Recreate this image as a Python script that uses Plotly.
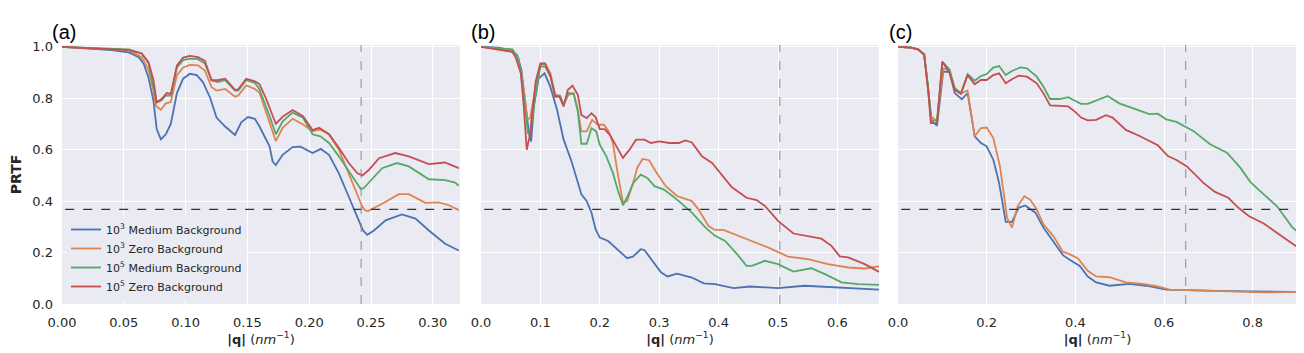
import math
import plotly.graph_objects as go

# ---------------- panel (a) ----------------
qa_blue = [0.0, 0.04, 0.054, 0.062, 0.066, 0.070, 0.074, 0.0766, 0.080, 0.084, 0.088, 0.093, 0.098, 0.1035,
           0.109, 0.114, 0.120, 0.125, 0.132, 0.140, 0.145, 0.1505, 0.156, 0.1597, 0.168, 0.1704, 0.173, 0.1785,
           0.1866, 0.193, 0.2027, 0.2094, 0.216, 0.224, 0.232, 0.239, 0.2435, 0.247, 0.2524, 0.2618, 0.275,
           0.286, 0.2968, 0.310, 0.321]
va_blue = [1.0, 0.987, 0.978, 0.96, 0.935, 0.88, 0.79, 0.68, 0.64, 0.66, 0.70, 0.82, 0.876, 0.895,
           0.89, 0.863, 0.80, 0.725, 0.69, 0.657, 0.706, 0.727, 0.72, 0.691, 0.612, 0.554, 0.54, 0.58,
           0.61, 0.612, 0.587, 0.603, 0.58, 0.508, 0.417, 0.339, 0.286, 0.269, 0.286, 0.325, 0.348,
           0.332, 0.286, 0.234, 0.208]

qa_orange = [0.0, 0.054, 0.0645, 0.070, 0.074, 0.076, 0.080, 0.084, 0.088, 0.093, 0.098, 0.1035, 0.110, 0.1156,
             0.121, 0.125, 0.132, 0.140, 0.1425, 0.149, 0.156, 0.1597, 0.168, 0.173, 0.1785, 0.1866, 0.195,
             0.2027, 0.209, 0.216, 0.224, 0.232, 0.239, 0.243, 0.2457, 0.248, 0.259, 0.2726, 0.2806, 0.294,
             0.305, 0.313, 0.321]
va_orange = [1.0, 0.987, 0.96, 0.91, 0.83, 0.77, 0.755, 0.78, 0.785, 0.89, 0.92, 0.93, 0.928, 0.908,
             0.843, 0.83, 0.836, 0.806, 0.81, 0.85, 0.836, 0.822, 0.705, 0.633, 0.685, 0.72, 0.698,
             0.672, 0.678, 0.66, 0.60, 0.508, 0.43, 0.378, 0.362, 0.362, 0.39, 0.427, 0.427, 0.393,
             0.395, 0.384, 0.365]

qa_green = [0.0, 0.054, 0.0645, 0.070, 0.074, 0.0766, 0.080, 0.084, 0.088, 0.093, 0.098, 0.1035, 0.110, 0.1156,
            0.121, 0.126, 0.132, 0.140, 0.1425, 0.149, 0.156, 0.1597, 0.168, 0.173, 0.1785, 0.1866, 0.195,
            0.2027, 0.209, 0.216, 0.224, 0.232, 0.239, 0.2417, 0.244, 0.2516, 0.259, 0.271, 0.2806, 0.2968,
            0.310, 0.318, 0.321]
va_green = [1.0, 0.99, 0.974, 0.935, 0.843, 0.784, 0.79, 0.81, 0.81, 0.92, 0.948, 0.954, 0.952, 0.935,
            0.87, 0.863, 0.87, 0.83, 0.83, 0.87, 0.86, 0.835, 0.73, 0.66, 0.71, 0.744, 0.724,
            0.66, 0.652, 0.626, 0.574, 0.515, 0.467, 0.447, 0.45, 0.489, 0.528, 0.548, 0.535, 0.485,
            0.482, 0.472, 0.46]

qa_red = [0.0, 0.054, 0.0645, 0.070, 0.074, 0.0766, 0.0806, 0.0847, 0.088, 0.093, 0.098, 0.1035, 0.110, 0.1156,
          0.121, 0.126, 0.132, 0.140, 0.1425, 0.149, 0.156, 0.1597, 0.165, 0.173, 0.1785, 0.1866, 0.195,
          0.2027, 0.208, 0.216, 0.224, 0.232, 0.239, 0.243, 0.248, 0.2565, 0.2696, 0.2806, 0.2968, 0.3097,
          0.321]
va_red = [1.0, 0.987, 0.974, 0.94, 0.87, 0.784, 0.797, 0.82, 0.817, 0.928, 0.958, 0.965, 0.96, 0.945,
          0.87, 0.87, 0.876, 0.833, 0.834, 0.876, 0.866, 0.855, 0.80, 0.70, 0.728, 0.754, 0.73,
          0.676, 0.685, 0.66, 0.607, 0.548, 0.508, 0.50, 0.52, 0.567, 0.587, 0.574, 0.544, 0.55,
          0.528]

# ---------------- panel (b) ----------------
qb_blue = [0.0, 0.03, 0.047, 0.061, 0.068, 0.074, 0.078, 0.0806, 0.0844, 0.089, 0.097, 0.107, 0.1167, 0.128,
           0.139, 0.153, 0.169, 0.178, 0.186, 0.193, 0.2, 0.214, 0.23, 0.246, 0.2556, 0.269, 0.275, 0.286,
           0.303, 0.314, 0.33, 0.355, 0.375, 0.394, 0.425, 0.453, 0.50, 0.545, 0.579, 0.623, 0.67]
vb_blue = [1.0, 0.997, 0.987, 0.968, 0.91, 0.806, 0.716, 0.665, 0.632, 0.768, 0.877, 0.897, 0.845, 0.755,
           0.64, 0.55, 0.426, 0.40, 0.355, 0.29, 0.258, 0.245, 0.213, 0.178, 0.184, 0.213, 0.21, 0.174,
           0.123, 0.107, 0.118, 0.103, 0.08, 0.077, 0.062, 0.068, 0.062, 0.071, 0.067, 0.061, 0.056]

qb_orange = [0.0, 0.053, 0.061, 0.068, 0.074, 0.078, 0.083, 0.092, 0.1, 0.108, 0.117, 0.125, 0.133, 0.139,
             0.147, 0.156, 0.163, 0.169, 0.178, 0.187, 0.197, 0.207, 0.215, 0.222, 0.23, 0.239, 0.246,
             0.256, 0.263, 0.272, 0.283, 0.294, 0.311, 0.33, 0.355, 0.366, 0.383, 0.394, 0.408, 0.428,
             0.456, 0.484, 0.517, 0.551, 0.584, 0.618, 0.646, 0.67]
vb_orange = [1.0, 0.987, 0.96, 0.897, 0.80, 0.716, 0.725, 0.845, 0.93, 0.933, 0.897, 0.813, 0.81, 0.774,
             0.813, 0.82, 0.755, 0.671, 0.671, 0.716, 0.697, 0.697, 0.671, 0.626, 0.51, 0.394, 0.40,
             0.47, 0.53, 0.564, 0.559, 0.516, 0.458, 0.42, 0.40, 0.368, 0.303, 0.288, 0.288, 0.27,
             0.245, 0.219, 0.184, 0.174, 0.155, 0.142, 0.138, 0.146]

qb_green = [0.0, 0.053, 0.063, 0.069, 0.075, 0.079, 0.083, 0.09, 0.1, 0.108, 0.117, 0.125, 0.133, 0.139,
            0.147, 0.156, 0.163, 0.169, 0.178, 0.186, 0.194, 0.2, 0.211, 0.222, 0.23, 0.239, 0.247, 0.256,
            0.269, 0.28, 0.292, 0.308, 0.319, 0.333, 0.355, 0.378, 0.394, 0.411, 0.431, 0.447, 0.456,
            0.478, 0.5, 0.526, 0.556, 0.579, 0.607, 0.635, 0.67]
vb_green = [1.0, 0.99, 0.955, 0.87, 0.748, 0.665, 0.658, 0.79, 0.923, 0.923, 0.884, 0.806, 0.81, 0.774,
            0.82, 0.817, 0.748, 0.623, 0.623, 0.684, 0.671, 0.619, 0.574, 0.51, 0.445, 0.384, 0.42, 0.47,
            0.503, 0.49, 0.458, 0.445, 0.426, 0.40, 0.355, 0.297, 0.265, 0.245, 0.194, 0.148, 0.148,
            0.168, 0.155, 0.126, 0.139, 0.116, 0.084, 0.077, 0.074]

qb_red = [0.0, 0.053, 0.059, 0.067, 0.072, 0.077, 0.082, 0.092, 0.1, 0.108, 0.117, 0.125, 0.132, 0.139,
          0.146, 0.154, 0.163, 0.169, 0.178, 0.186, 0.193, 0.2, 0.208, 0.217, 0.228, 0.239, 0.25, 0.261,
          0.275, 0.286, 0.3, 0.317, 0.333, 0.344, 0.355, 0.372, 0.389, 0.403, 0.422, 0.447, 0.464,
          0.478, 0.5, 0.526, 0.542, 0.573, 0.59, 0.604, 0.618, 0.646, 0.67]
vb_red = [1.0, 0.98, 0.955, 0.897, 0.768, 0.60, 0.652, 0.865, 0.935, 0.935, 0.884, 0.806, 0.806, 0.768,
          0.832, 0.849, 0.813, 0.735, 0.723, 0.742, 0.726, 0.68, 0.68, 0.658, 0.613, 0.568, 0.60, 0.639,
          0.639, 0.626, 0.632, 0.626, 0.626, 0.636, 0.628, 0.574, 0.548, 0.51, 0.455, 0.413, 0.404,
          0.381, 0.323, 0.274, 0.267, 0.254, 0.226, 0.185, 0.181, 0.155, 0.125]

# ---------------- panel (c) ----------------
qc_blue = [0.0, 0.03, 0.045, 0.059, 0.068, 0.075, 0.088, 0.102, 0.116, 0.128, 0.144, 0.157, 0.173, 0.187,
           0.2, 0.215, 0.228, 0.237, 0.243, 0.257, 0.272, 0.287, 0.31, 0.328, 0.35, 0.372, 0.387, 0.41,
           0.428, 0.447, 0.477, 0.522, 0.56, 0.605, 0.673, 0.749, 0.9]
vc_blue = [1.0, 0.997, 0.99, 0.97, 0.832, 0.716, 0.693, 0.903, 0.903, 0.82, 0.796, 0.82, 0.652, 0.626,
           0.613, 0.561, 0.471, 0.381, 0.319, 0.319, 0.374, 0.383, 0.355, 0.297, 0.245, 0.19, 0.172, 0.148,
           0.107, 0.084, 0.071, 0.078, 0.071, 0.056, 0.053, 0.05, 0.047]

qc_orange = [0.0, 0.03, 0.045, 0.059, 0.068, 0.075, 0.088, 0.102, 0.116, 0.128, 0.144, 0.157, 0.173, 0.187,
             0.2, 0.215, 0.23, 0.239, 0.246, 0.257, 0.27, 0.285, 0.298, 0.313, 0.328, 0.35, 0.372, 0.387,
             0.406, 0.428, 0.447, 0.477, 0.514, 0.552, 0.583, 0.613, 0.673, 0.749, 0.825, 0.9]
vc_orange = [1.0, 0.997, 0.99, 0.97, 0.832, 0.729, 0.71, 0.916, 0.91, 0.832, 0.82, 0.83, 0.652, 0.684,
             0.686, 0.645, 0.535, 0.419, 0.335, 0.297, 0.381, 0.419, 0.406, 0.368, 0.31, 0.265, 0.203, 0.194,
             0.177, 0.129, 0.107, 0.104, 0.084, 0.078, 0.069, 0.056, 0.053, 0.05, 0.045, 0.047]

qc_green = [0.0, 0.03, 0.045, 0.059, 0.068, 0.075, 0.088, 0.1, 0.116, 0.128, 0.142, 0.157, 0.173, 0.187,
            0.2, 0.215, 0.228, 0.243, 0.257, 0.276, 0.291, 0.313, 0.328, 0.343, 0.365, 0.384, 0.399, 0.413,
            0.428, 0.447, 0.473, 0.499, 0.537, 0.567, 0.586, 0.605, 0.628, 0.666, 0.704, 0.742, 0.772,
            0.795, 0.825, 0.855, 0.889, 0.9]
vc_green = [1.0, 0.997, 0.99, 0.97, 0.845, 0.714, 0.714, 0.942, 0.912, 0.84, 0.82, 0.894, 0.868, 0.886,
            0.894, 0.919, 0.925, 0.89, 0.906, 0.92, 0.916, 0.884, 0.845, 0.797, 0.797, 0.804, 0.79, 0.778,
            0.778, 0.79, 0.809, 0.78, 0.757, 0.738, 0.74, 0.718, 0.708, 0.673, 0.621, 0.588, 0.53,
            0.474, 0.426, 0.38, 0.299, 0.283]

qc_red = [0.0, 0.03, 0.045, 0.059, 0.068, 0.074, 0.088, 0.1, 0.116, 0.128, 0.142, 0.157, 0.173, 0.187,
          0.2, 0.215, 0.228, 0.243, 0.257, 0.272, 0.291, 0.313, 0.328, 0.343, 0.365, 0.384, 0.399, 0.413,
          0.428, 0.447, 0.469, 0.484, 0.514, 0.545, 0.586, 0.609, 0.628, 0.651, 0.689, 0.715, 0.745,
          0.768, 0.791, 0.825, 0.852, 0.886, 0.9]
vc_red = [1.0, 0.997, 0.99, 0.97, 0.832, 0.703, 0.703, 0.942, 0.90, 0.832, 0.817, 0.89, 0.854, 0.871,
          0.871, 0.89, 0.897, 0.858, 0.874, 0.888, 0.884, 0.858, 0.819, 0.772, 0.77, 0.768, 0.748, 0.725,
          0.714, 0.716, 0.734, 0.725, 0.677, 0.653, 0.617, 0.575, 0.56, 0.536, 0.471, 0.436, 0.413,
          0.374, 0.342, 0.313, 0.28, 0.238, 0.222]

series_names = ["10<sup>3</sup> Medium Background", "10<sup>3</sup> Zero Background",
                "10<sup>5</sup> Medium Background", "10<sup>5</sup> Zero Background"]
colors = ["#4C72B0", "#DD8452", "#55A868", "#C44E52"]
panel_labels = ["(a)", "(b)", "(c)"]
x_ranges = [[0, 0.322], [0, 0.67], [0, 0.9]]
x_ticks = [[0, 0.05, 0.10, 0.15, 0.20, 0.25, 0.30], [0, 0.1, 0.2, 0.3, 0.4, 0.5, 0.6], [0, 0.2, 0.4, 0.6, 0.8]]
x_formats = [".2f", ".1f", ".1f"]
resolution_q = [0.242, 0.503, 0.649]
threshold = 1 / math.e

panels = [
    [(qa_blue, va_blue), (qa_orange, va_orange), (qa_green, va_green), (qa_red, va_red)],
    [(qb_blue, vb_blue), (qb_orange, vb_orange), (qb_green, vb_green), (qb_red, vb_red)],
    [(qc_blue, vc_blue), (qc_orange, vc_orange), (qc_green, vc_green), (qc_red, vc_red)],
]

# the page body adds an 8px margin, so the figure is drawn 8px smaller and shifted
OFF = 8
W, H = 1304 - OFF, 353 - OFF


def px(x):
    return (x - OFF) / W


def py(y):
    return 1 - (y - OFF) / H


x_domains = [[px(62), px(460)], [px(481), px(879)], [px(898), px(1297)]]
y_domain = [py(304), py(45)]
tick_font = dict(family="DejaVu Sans", size=13, color="#262626")

fig = go.Figure()
for p, curves in enumerate(panels):
    ax = "" if p == 0 else str(p + 1)
    for s, (q, v) in enumerate(curves):
        fig.add_trace(go.Scatter(
            x=q, y=v, mode="lines", name=series_names[s],
            line=dict(color=colors[s], width=1.8),
            xaxis="x" + ax, yaxis="y" + ax, showlegend=(p == 0),
        ))
    xref = "x" + ax
    yref = "y" + ax
    # 1/e threshold and resolution marker
    fig.add_shape(type="line", xref=xref + " domain", yref=yref, x0=0.008, x1=1,
                  y0=threshold, y1=threshold, line=dict(color="#333333", width=1.3, dash="dash"))
    fig.add_shape(type="line", xref=xref, yref=yref + " domain", x0=resolution_q[p], x1=resolution_q[p],
                  y0=0, y1=1, line=dict(color="#8c8c8c", width=1, dash="dash"))
    fig.add_annotation(text=panel_labels[p], xref="paper", yref="paper",
                       x=x_domains[p][0] + 2 / W, y=py(32), xanchor="center", yanchor="middle",
                       showarrow=False, font=dict(family="Liberation Sans", size=20, color="black"))

    fig.layout["xaxis" + ax] = dict(
        domain=x_domains[p], range=x_ranges[p], tickvals=x_ticks[p], tickformat=x_formats[p],
        showgrid=True, gridcolor="white", gridwidth=1.3, zeroline=False, showline=False,
        tickfont=tick_font, ticks="", ticklabelstandoff=9, anchor=yref, automargin=False,
        title=dict(text="<b>|q|</b> (<i>nm</i><sup>−1</sup>)", font=dict(family="DejaVu Sans", size=13, color="#262626"),
                   standoff=5),
    )
    fig.layout["yaxis" + ax] = dict(
        domain=y_domain, range=[0, 1.007], tickvals=[0, 0.2, 0.4, 0.6, 0.8, 1.0], tickformat=".1f",
        showgrid=True, gridcolor="white", gridwidth=1.3, zeroline=False, showline=False,
        showticklabels=(p == 0), tickfont=tick_font, ticks="", ticklabelstandoff=8, anchor=xref,
        automargin=False,
        title=dict(text="<b>PRTF</b>" if p == 0 else "", font=dict(family="DejaVu Sans", size=14, color="#262626"),
                   standoff=9),
    )

fig.update_layout(
    width=W, height=H,
    margin=dict(l=0, r=0, t=0, b=0, autoexpand=False),
    paper_bgcolor="white", plot_bgcolor="#EAEAF2",
    legend=dict(x=px(66), y=py(301), xanchor="left", yanchor="bottom",
                bgcolor="rgba(234,234,242,0.85)", borderwidth=0,
                font=dict(family="DejaVu Sans", size=11, color="#262626"), tracegroupgap=0),
)

fig.write_html("out.html")
